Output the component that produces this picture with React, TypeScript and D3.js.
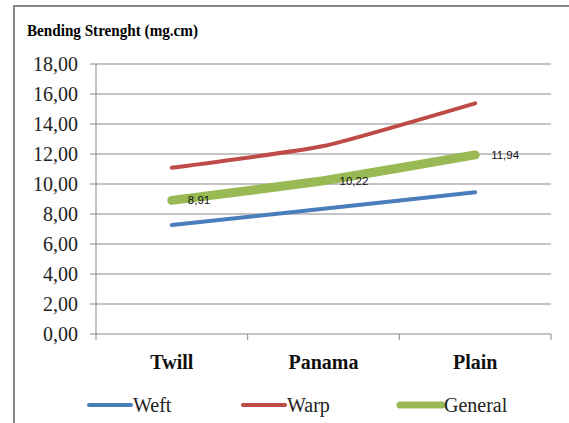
import React from "react";
import * as d3 from "d3";

const categories = ["Twill", "Panama", "Plain"];
const weft = [7.27, 8.35, 9.45];
const warp = [11.08, 12.53, 15.38];
const general = [8.91, 10.22, 11.94];
const yTicks = [0, 2, 4, 6, 8, 10, 12, 14, 16, 18];

const W = 569;
const H = 423;
const plot = { left: 96, right: 551, top: 64, bottom: 334 };

const series = [
  { name: "Weft", values: weft, color: "#4A7EBB", width: 4, labels: false },
  { name: "Warp", values: warp, color: "#BE4B48", width: 4, labels: false },
  { name: "General", values: general, color: "#98B954", width: 9, labels: true },
];

const fmt = (v: number) => v.toFixed(2).replace(".", ",");

export default function App() {
  const x = d3
    .scaleBand<string>()
    .domain(categories)
    .range([plot.left, plot.right])
    .padding(0);
  const y = d3.scaleLinear().domain([0, 18]).range([plot.bottom, plot.top]);
  const cx = (c: string) => (x(c) as number) + x.bandwidth() / 2;

  const line = d3
    .line<number>()
    .x((_, i) => cx(categories[i]))
    .y((v) => y(v))
    .curve(d3.curveCardinal.tension(0.55));

  const edges = [...categories.map((c) => x(c) as number), plot.right];
  const serif = "'Liberation Serif', 'Times New Roman', serif";
  const sans = "'Liberation Sans', Arial, sans-serif";
  const grid = "#8a8a8a";

  const legendItems = [
    { s: series[0], x0: 89 },
    { s: series[1], x0: 243 },
    { s: series[2], x0: 400 },
  ];

  return (
    <div style={{ position: "fixed", left: 0, top: 0 }}>
      <svg width={W} height={H} style={{ display: "block", background: "#fff" }}>
        {/* chart frame */}
        <rect x={14} y={6} width={W + 10} height={H + 10} fill="#fff" stroke="#868686" strokeWidth={2} />

        <text x={27} y={36} fontFamily={serif} fontWeight="bold" fontSize={16} textLength={171} lengthAdjust="spacingAndGlyphs">
          Bending Strenght (mg.cm)
        </text>

        {/* horizontal gridlines and y ticks */}
        {yTicks.map((t) => (
          <g key={t}>
            <line x1={plot.left - 6} x2={plot.right} y1={y(t)} y2={y(t)} stroke={grid} strokeWidth={1} />
            <text x={78} y={y(t)} dy="0.35em" textAnchor="end" fontFamily={serif} fontSize={20} fill="#222">
              {fmt(t)}
            </text>
          </g>
        ))}
        <line x1={plot.left} x2={plot.left} y1={plot.top} y2={plot.bottom + 1} stroke={grid} strokeWidth={1} />

        {/* x ticks */}
        {edges.map((e, i) => (
          <line key={i} x1={e} x2={e} y1={plot.bottom} y2={plot.bottom + 6} stroke={grid} strokeWidth={1} />
        ))}
        {categories.map((c) => (
          <text key={c} x={cx(c)} y={362} dy="0.35em" textAnchor="middle" fontFamily={serif} fontWeight="bold" fontSize={20} fill="#111">
            {c}
          </text>
        ))}

        {/* series lines */}
        {series.map((s) => (
          <path
            key={s.name}
            d={line(s.values) as string}
            fill="none"
            stroke={s.color}
            strokeWidth={s.width}
            strokeLinecap="round"
            strokeLinejoin="round"
          />
        ))}

        {/* data labels */}
        {series
          .filter((s) => s.labels)
          .map((s) =>
            s.values.map((v, i) => (
              <text
                key={s.name + i}
                x={cx(categories[i]) + 16}
                y={y(v)}
                dy="0.35em"
                fontFamily={sans}
                fontSize={11.5}
                fill="#111"
              >
                {fmt(v)}
              </text>
            ))
          )}

        {/* legend */}
        {legendItems.map(({ s, x0 }) => (
          <g key={s.name}>
            <line
              x1={x0}
              x2={x0 + 42}
              y1={405}
              y2={405}
              stroke={s.color}
              strokeWidth={s.width === 9 ? 7 : 4}
              strokeLinecap="round"
            />
            <text x={x0 + 44} y={405} dy="0.35em" fontFamily={serif} fontSize={20} fill="#222">
              {s.name}
            </text>
          </g>
        ))}
      </svg>
    </div>
  );
}
